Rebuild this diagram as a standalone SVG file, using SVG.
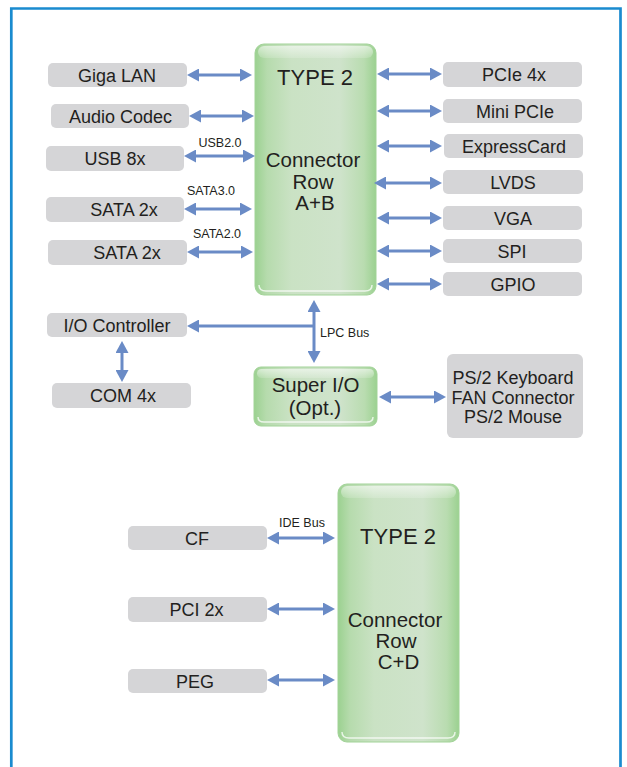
<svg xmlns="http://www.w3.org/2000/svg" width="627" height="767" viewBox="0 0 627 767">
<style>
.box{fill:#d5d5d7}
.t{font-family:"Liberation Sans",Arial,sans-serif;fill:#231f20;text-anchor:middle}
.m{font-size:18px}
.l{font-size:22px}
.k{font-size:20.5px}
.s{font-size:12.5px}
.c{stroke:#6a8bc6;stroke-width:3;fill:none;marker-start:url(#a);marker-end:url(#a)}
.c1{stroke:#6a8bc6;stroke-width:3;fill:none;marker-end:url(#a)}
.g{fill:url(#gh);stroke:#a2d398;stroke-width:1}
.gl{fill:url(#gv)}
.bl{fill:none;stroke:#ffffff;stroke-opacity:.75;stroke-width:1.5}
</style>
<defs>
<marker id="a" markerUnits="userSpaceOnUse" markerWidth="12" markerHeight="13" viewBox="0 0 12 13" refX="0" refY="6.5" orient="auto-start-reverse">
<path d="M0,0 L12,6.5 L0,13 z" fill="#6a8bc6"/>
</marker>
<linearGradient id="gh" x1="0" y1="0" x2="1" y2="0">
<stop offset="0" stop-color="#9bd190"/>
<stop offset="0.1" stop-color="#b6dbad"/>
<stop offset="0.3" stop-color="#cae2c4"/>
<stop offset="0.7" stop-color="#cfe3cb"/>
<stop offset="0.9" stop-color="#b9dcb0"/>
<stop offset="1" stop-color="#9bd190"/>
</linearGradient>
<linearGradient id="gv" x1="0" y1="0" x2="0" y2="1">
<stop offset="0" stop-color="#ffffff" stop-opacity="0.55"/>
<stop offset="1" stop-color="#ffffff" stop-opacity="0.15"/>
</linearGradient>
</defs>

<path d="M11.3,767 V8.5 H620.5 V767" fill="none" stroke="#1a8bcf" stroke-width="2.7"/>

<g id="typeAB">
<rect class="g" x="255" y="44" width="121" height="251" rx="9"/>
<rect class="gl" x="258" y="46" width="115" height="12" rx="6"/>
<path class="bl" d="M259,285 Q259,291 266,291 H365 Q372,291 372,285"/>
<text class="t l" x="315" y="85">TYPE 2</text>
<text class="t k" x="313" y="167">Connector</text>
<text class="t k" x="313" y="188.5">Row</text>
<text class="t k" x="315" y="210">A+B</text>
</g>

<g id="gigalan"><rect class="box" x="48" y="63" width="139" height="24" rx="5"/><text class="t m" x="117" y="82">Giga LAN</text></g>
<g id="audio"><rect class="box" x="51" y="104" width="138" height="24" rx="5"/><text class="t m" x="120.5" y="123">Audio Codec</text></g>
<g id="usb"><rect class="box" x="46" y="146" width="138" height="25" rx="5"/><text class="t m" x="115" y="165">USB 8x</text></g>
<g id="sata1"><rect class="box" x="46" y="197" width="138" height="25" rx="5"/><text class="t m" x="124" y="216">SATA 2x</text></g>
<g id="sata2"><rect class="box" x="48" y="240" width="139" height="25" rx="5"/><text class="t m" x="127" y="259">SATA 2x</text></g>

<g id="pcie"><rect class="box" x="443" y="62" width="139" height="25" rx="5"/><text class="t m" x="514" y="81">PCIe 4x</text></g>
<g id="minipcie"><rect class="box" x="443" y="99" width="139" height="24" rx="5"/><text class="t m" x="515" y="118">Mini PCIe</text></g>
<g id="expresscard"><rect class="box" x="444" y="134" width="139" height="24" rx="5"/><text class="t m" x="514" y="153">ExpressCard</text></g>
<g id="lvds"><rect class="box" x="443" y="170" width="140" height="24" rx="5"/><text class="t m" x="513" y="189">LVDS</text></g>
<g id="vga"><rect class="box" x="443" y="206" width="139" height="24" rx="5"/><text class="t m" x="513" y="225">VGA</text></g>
<g id="spi"><rect class="box" x="443" y="239" width="139" height="24" rx="5"/><text class="t m" x="512" y="258">SPI</text></g>
<g id="gpio"><rect class="box" x="443" y="272" width="139" height="24" rx="5"/><text class="t m" x="513" y="291">GPIO</text></g>

<g id="iocontroller"><rect class="box" x="47" y="313" width="140" height="24" rx="5"/><text class="t m" x="117" y="332">I/O Controller</text></g>
<g id="com"><rect class="box" x="52" y="383" width="139" height="25" rx="5"/><text class="t m" x="123" y="402">COM 4x</text></g>

<g id="superio">
<rect class="g" x="254" y="367" width="123" height="59" rx="7"/>
<rect class="gl" x="257" y="369" width="117" height="9" rx="4.5"/>
<path class="bl" d="M258,417 Q258,422 264,422 H367 Q373,422 373,417"/>
<text class="t k" x="315.5" y="392">Super I/O</text>
<text class="t k" x="315" y="415">(Opt.)</text>
</g>

<g id="ps2">
<rect class="box" x="447" y="354" width="136" height="84" rx="6"/>
<text class="t m" x="513" y="384">PS/2 Keyboard</text>
<text class="t m" x="513" y="404">FAN Connector</text>
<text class="t m" x="513" y="423">PS/2 Mouse</text>
</g>

<g id="typeCD">
<rect class="g" x="338" y="484" width="121" height="258" rx="9"/>
<rect class="gl" x="341" y="486" width="115" height="12" rx="6"/>
<path class="bl" d="M342,732 Q342,738 349,738 H448 Q455,738 455,732"/>
<text class="t l" x="398" y="544">TYPE 2</text>
<text class="t k" x="395" y="627">Connector</text>
<text class="t k" x="396" y="648">Row</text>
<text class="t k" x="398.5" y="669">C+D</text>
</g>

<g id="cf"><rect class="box" x="128" y="526" width="139" height="24" rx="5"/><text class="t m" x="197" y="544.5">CF</text></g>
<g id="pci"><rect class="box" x="128" y="597" width="139" height="25" rx="5"/><text class="t m" x="196.5" y="616">PCI 2x</text></g>
<g id="peg"><rect class="box" x="128" y="669" width="139" height="24" rx="5"/><text class="t m" x="195" y="687.5">PEG</text></g>

<g id="connectors">
<path class="c" d="M199,75 H240"/>
<path class="c" d="M201,116 H242"/>
<path class="c" d="M196,156 H243"/>
<path class="c" d="M196,209 H240"/>
<path class="c" d="M199,252 H241"/>
<path class="c" d="M389,74 H430"/>
<path class="c" d="M389,111 H430"/>
<path class="c" d="M389,146 H430"/>
<path class="c" d="M386,183 H430"/>
<path class="c" d="M389,218 H430"/>
<path class="c" d="M389,251 H430"/>
<path class="c" d="M389,284 H430"/>
<path class="c" d="M314,312 V351"/>
<path class="c1" d="M314,326 H199"/>
<path class="c" d="M122,353 V370"/>
<path class="c" d="M391,397 H434"/>
<path class="c" d="M279,538 H323"/>
<path class="c" d="M279,609 H323"/>
<path class="c" d="M279,680 H323"/>
<text class="t s" x="220" y="147">USB2.0</text>
<text class="t s" x="211" y="195">SATA3.0</text>
<text class="t s" x="217" y="238">SATA2.0</text>
<text class="t s" x="320" y="337" style="text-anchor:start">LPC Bus</text>
<text class="t s" x="302" y="527">IDE Bus</text>
</g>
</svg>
